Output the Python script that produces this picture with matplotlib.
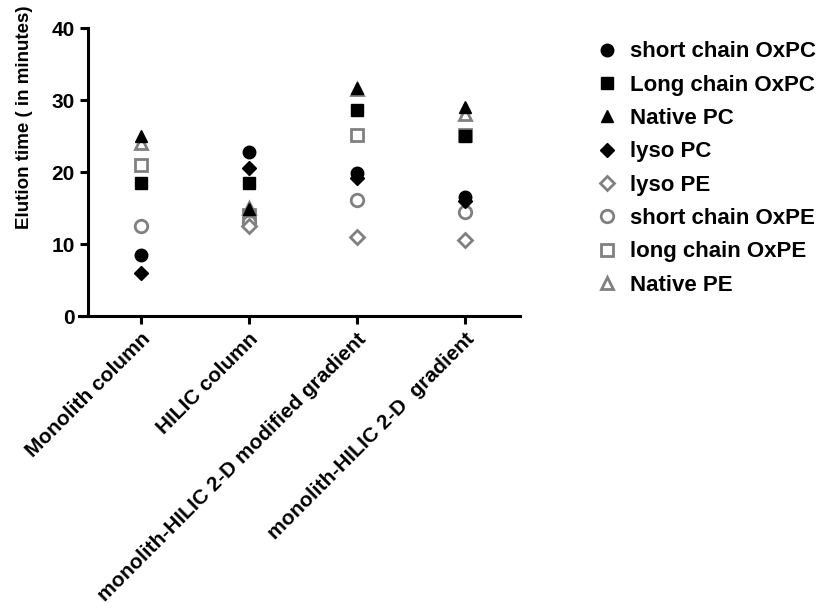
import numpy as np
import matplotlib
matplotlib.use("Agg")
import matplotlib.pyplot as plt

plt.rcParams['font.family'] = ['Liberation Sans', 'DejaVu Sans']
plt.rcParams['font.weight'] = 'bold'

columns = ['Monolith column', 'HILIC column',
           'monolith-HILIC 2-D modified gradient', 'monolith-HILIC 2-D  gradient']

series = ['short chain OxPC', 'Long chain OxPC', 'Native PC', 'lyso PC',
          'lyso PE', 'short chain OxPE', 'long chain OxPE', 'Native PE']

short_oxpc = [8.5, 22.8, 19.8, 16.5]
long_oxpc = [18.5, 18.5, 28.6, 25.0]
native_pc = [25.0, 14.8, 31.7, 29.0]
lyso_pc = [6.0, 20.5, 19.2, 16.0]
lyso_pe = [np.nan, 12.5, 11.0, 10.6]
short_oxpe = [12.5, 13.0, 16.1, 14.4]
long_oxpe = [21.0, 14.0, 25.1, 25.2]
native_pe = [24.0, 15.0, 31.5, 28.0]

values = [short_oxpc, long_oxpc, native_pc, lyso_pc,
          lyso_pe, short_oxpe, long_oxpe, native_pe]
markers = ['o', 's', '^', 'D', 'D', 'o', 's', '^']
sizes = [9, 9, 9, 7, 7, 9, 9, 9]
filled = [True, True, True, True, False, False, False, False]

fig = plt.figure(figsize=(8.21, 6.13), dpi=100)
ax = fig.add_axes([0.0962, 0.4845, 0.537, 0.4698])

x = np.arange(len(columns))
grey = '#808080'
# first series sit on top, like the original software draws them
for i, (name, vals, m, ms, f) in enumerate(zip(series, values, markers, sizes, filled)):
    if f:
        ax.plot(x, vals, linestyle='none', marker=m, markersize=ms,
                color='black', label=name, zorder=20 - i)
    else:
        ax.plot(x, vals, linestyle='none', marker=m, markersize=ms,
                markerfacecolor='white', markeredgecolor=grey,
                markeredgewidth=2, label=name, zorder=20 - i)

ax.set_xlim(-0.574, 3.51)
ax.set_ylim(0, 40)
ax.set_yticks([0, 10, 20, 30, 40])
ax.set_xticks(x)
ax.set_xticklabels(columns, rotation=45, ha='right', rotation_mode='anchor',
                   fontsize=15, fontweight='bold')
ax.tick_params(axis='y', labelsize=15, width=2.2, length=6)
ax.tick_params(axis='x', width=2.2, length=6)
for t in ax.get_yticklabels():
    t.set_fontweight('bold')

ax.spines['top'].set_visible(False)
ax.spines['right'].set_visible(False)
ax.spines['left'].set_position(('data', -0.49))
ax.spines['left'].set_linewidth(2.2)
ax.spines['bottom'].set_linewidth(2.2)

ax.set_ylabel('Elution time ( in minutes)', fontsize=13.5, fontweight='bold')
ax.yaxis.set_label_coords(-0.105, 0.69)

fig.legend(loc='upper left', bbox_to_anchor=(0.70, 0.965), frameon=False,
           prop={'size': 16, 'weight': 'bold'}, handletextpad=0.5,
           labelspacing=0.555, handlelength=1.1)

fig.savefig('out.png', dpi=100)
